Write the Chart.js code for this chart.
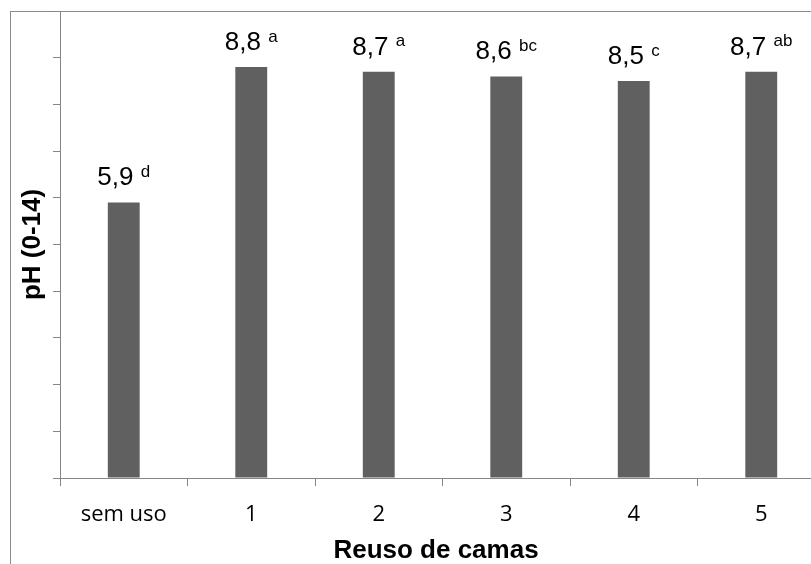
<!DOCTYPE html>
<html><head><meta charset="utf-8">
<script src="https://cdn.jsdelivr.net/npm/chart.js@4/dist/chart.umd.min.js"></script>
<style>
html,body{margin:0;padding:0;background:#fff;overflow:hidden;width:811px;height:564px;}
#frame{position:absolute;left:10px;top:11px;width:900px;height:700px;border-left:1px solid #8a8a8a;border-top:1px solid #8a8a8a;}
#wrap{position:absolute;left:0;top:0;width:840px;height:564px;}
</style></head><body>
<div id="frame"></div>
<div id="wrap"><canvas id="c" width="840" height="564" style="width:840px;height:564px"></canvas></div>
<script>
// ---- data ----
const categories = ['sem uso', '1', '2', '3', '4', '5'];
const phValues = [5.9, 8.8, 8.7, 8.6, 8.5, 8.7];
const letters = ['d', 'a', 'a', 'bc', 'c', 'ab'];
const yMin = 0;
const yMax = 10;
const yStep = 1;
const xTitle = 'Reuso de camas';
const yTitle = 'pH (0-14)';

// ---- styles ----
const barColor = '#606060';
const axisColor = '#868686';
const numFont = '"Liberation Sans", Arial, sans-serif';
const tickFont = '"Open Sans", sans-serif';

const labelPlugin = {
  id: 'valueLabels',
  afterDatasetsDraw(chart) {
    const ctx = chart.ctx;
    const meta = chart.getDatasetMeta(0);
    ctx.save();
    ctx.fillStyle = '#000';
    ctx.textBaseline = 'alphabetic';
    ctx.textAlign = 'left';
    meta.data.forEach((bar, i) => {
      const main = phValues[i].toFixed(1).replace('.', ',');
      const sup = letters[i];
      ctx.font = '26px ' + numFont;
      const wMain = ctx.measureText(main).width;
      const wSpace = ctx.measureText(' ').width;
      ctx.font = '17px ' + numFont;
      const wSup = ctx.measureText(sup).width;
      const total = wMain + wSpace + wSup;
      const x0 = bar.x - total / 2;
      const base = bar.y - 17;
      ctx.font = '26px ' + numFont;
      ctx.fillText(main, x0, base);
      ctx.font = '17px ' + numFont;
      ctx.fillText(sup, x0 + wMain + wSpace, base - 8.5);
    });
    // axis titles
    const area = chart.chartArea;
    ctx.font = 'bold 26px ' + numFont;
    ctx.textAlign = 'center';
    ctx.textBaseline = 'alphabetic';
    ctx.fillText(xTitle, 436, 558);
    ctx.save();
    ctx.translate(40, (area.top + area.bottom) / 2);
    ctx.rotate(-Math.PI / 2);
    ctx.fillText(yTitle, 0, 0);
    ctx.restore();
    ctx.restore();
  }
};

new Chart(document.getElementById('c'), {
  type: 'bar',
  data: {
    labels: categories,
    datasets: [{
      data: phValues,
      backgroundColor: barColor,
      borderWidth: 0,
      barPercentage: 0.25,
      categoryPercentage: 1
    }]
  },
  options: {
    responsive: false,
    animation: false,
    devicePixelRatio: 1,
    layout: { padding: { top: 11, left: 0, right: 15, bottom: 0 } },
    plugins: { legend: { display: false }, tooltip: { enabled: false } },
    scales: {
      x: {
        grid: { display: true, drawOnChartArea: false, drawTicks: true, tickLength: 8, color: axisColor, lineWidth: 1, offset: true },
        border: { display: true, color: axisColor, width: 1 },
        ticks: { color: '#000', font: { family: tickFont, size: 22 }, padding: 16, maxRotation: 0 },
        afterFit(scale) { scale.height = 86; }
      },
      y: {
        min: yMin, max: yMax,
        grid: { display: true, drawOnChartArea: false, drawTicks: true, tickLength: 7, color: axisColor, lineWidth: 1 },
        border: { display: true, color: axisColor, width: 1 },
        ticks: { display: false, stepSize: yStep },
        afterFit(scale) { scale.width = 60; }
      }
    }
  },
  plugins: [labelPlugin]
});
</script>
</body></html>
